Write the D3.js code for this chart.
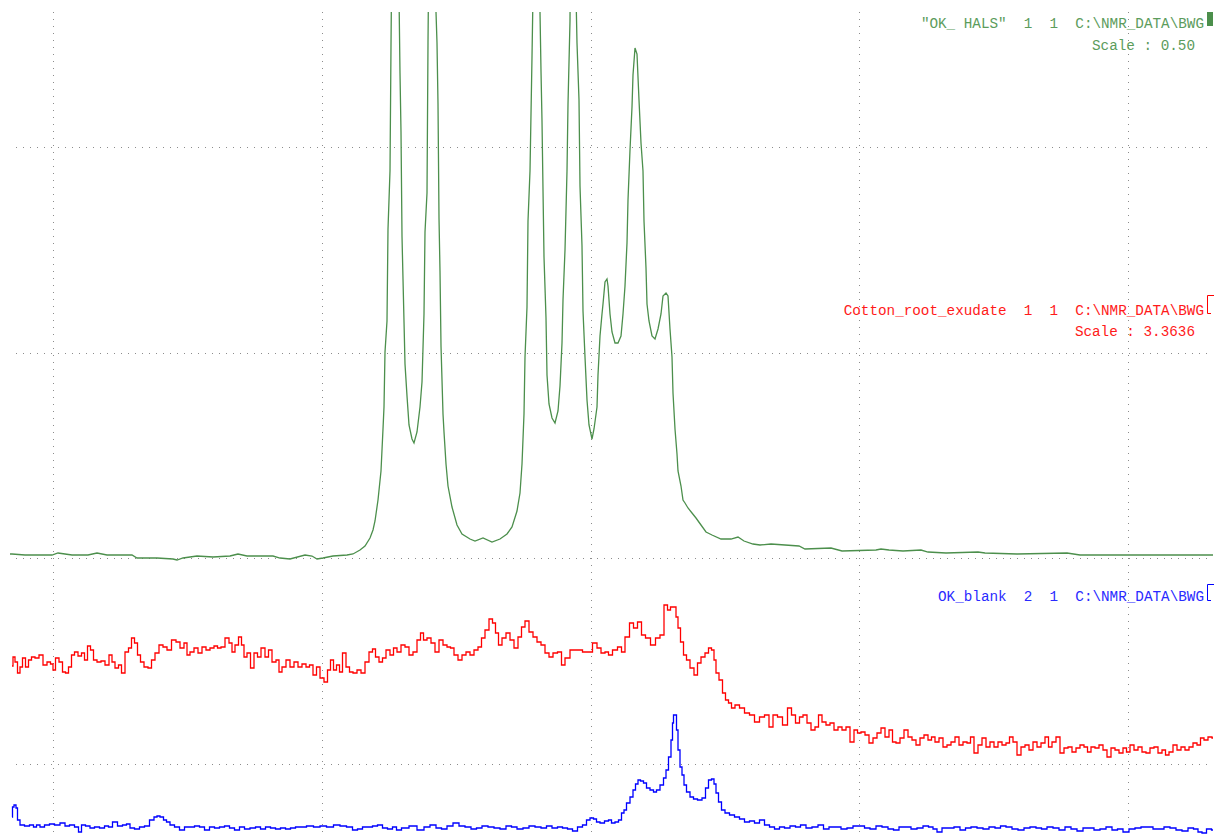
<!DOCTYPE html>
<meta charset="utf-8">
<style>
  body { margin: 0; background: #fff; }
  .grid line { stroke: #8c8c8c; stroke-width: 1; stroke-dasharray: 1 6; }
  .trace { fill: none; stroke-width: 1.3; stroke-linejoin: miter; }
  .label { font-family: "Liberation Mono", "Courier New", monospace; font-size: 14.3px; white-space: pre; }
</style>
<body>
<script src="https://d3js.org/d3.v7.min.js"></script>
<script>
var width = 1216, height = 837;

// grid positions (channel / intensity units)
var gridChannels = [43, 312, 580.5, 849, 1118];
var gridLevels = [0, 206, 411, 617];

// vertical offsets of the three stacked spectra
var greenOffset = 210, redOffset = 64, blueOffset = -62;

// "OK_ HALS" spectrum, [channel, intensity]
var greenPoints = [[0,0],[2,0],[15,-1],[42,-1],[48,1],[55,0],[62,-1],[78,-1],[87,1],[97,-1],[122,-1],[127,-4],[137,-4],[147,-4],
  [163,-5],[167,-6],[173,-4],[187,-2],[203,-3],[220,-2],[228,0],[237,-2],[257,-2],[263,-2],[270,-4],[280,-5],[295,-1],[302,-2],
  [307,-5],[313,-4],[323,-2],[337,-1],[343,0],[350,4],[355,8],[360,16],[363,24],[365,33],[368,54],[371,83],[373,125],[374,147],
  [375,202],[377,233],[378,325],[380,383],[381,508],[382,620],[385,900],[389,560],[390,481],[391,422],[392,318],[393,275],[395,190],
  [397,158],[399,129],[402,115],[404,111],[407,122],[410,147],[412,172],[414,240],[415,322],[417,361],[418,511],[419,620],[421,900],
  [426,542],[427,511],[428,450],[429,336],[430,283],[431,208],[433,140],[434,122],[436,90],[438,68],[442,47],[447,29],[452,20],
  [460,15],[465,13],[473,16],[482,12],[490,15],[497,20],[502,27],[507,43],[510,61],[512,90],[514,140],[515,197],[517,247],[518,333],
  [520,383],[522,497],[523,560],[526,900],[530,542],[531,483],[532,433],[533,364],[534,297],[536,236],[537,179],[539,150],[542,136],
  [545,131],[548,143],[550,168],[552,211],[553,254],[555,304],[557,383],[558,450],[560,533],[562,900],[566,560],[567,511],[569,454],
  [570,368],[572,308],[573,243],[575,197],[577,154],[579,129],[582,115],[584,125],[587,147],[588,179],[590,218],[592,240],[593,250],
  [595,272],[597,275],[598,268],[600,240],[602,222],[605,211],[608,211],[611,218],[613,240],[615,268],[617,311],[618,354],[620,404],
  [622,447],[623,479],[625,506],[627,500],[629,454],[631,411],[633,383],[634,333],[636,286],[637,250],[639,233],[642,218],[645,215],
  [648,225],[651,240],[653,258],[656,261],[658,258],[660,225],[662,197],[663,161],[665,125],[667,100],[668,83],[671,68],[673,54],
  [675,51],[678,46],[682,41],[686,36],[691,29],[696,22],[702,19],[711,15],[721,15],[728,17],[734,13],[743,10],[750,9],[761,10],
  [775,9],[789,8],[795,5],[821,6],[832,3],[866,4],[871,5],[879,4],[893,3],[911,4],[918,2],[936,1],[968,2],[975,1],[1007,0],
  [1057,1],[1070,-1],[1203,-1]];

// Cotton_root_exudate spectrum, [channel, intensity]
var redPoints = [[2,34],[4,43],[6,38],[9,27],[11,33],[14,42],[17,33],[20,40],[23,43],[27,42],[31,45],[35,35],[39,38],[42,36],
  [44,30],[47,42],[51,38],[54,28],[57,27],[60,33],[63,45],[66,48],[70,44],[73,47],[76,40],[79,54],[82,50],[85,40],[89,38],[93,39],
  [97,35],[101,45],[103,38],[107,32],[110,35],[113,27],[117,48],[120,52],[123,62],[126,57],[129,45],[132,38],[136,33],[140,32],
  [143,40],[147,47],[151,55],[155,53],[159,50],[164,60],[168,58],[172,52],[176,57],[178,45],[182,48],[186,52],[190,47],[194,53],
  [198,50],[202,52],[206,54],[209,52],[213,53],[217,62],[221,57],[223,48],[227,55],[230,63],[233,55],[235,43],[239,47],[242,32],
  [246,47],[249,43],[253,52],[257,43],[260,50],[264,38],[268,40],[270,28],[274,33],[278,40],[282,33],[286,38],[290,33],[294,36],
  [298,33],[301,35],[305,25],[308,33],[312,22],[316,18],[319,30],[322,40],[325,30],[328,35],[331,28],[334,47],[338,33],[341,28],
  [345,27],[349,30],[353,27],[357,38],[361,48],[364,51],[367,43],[371,38],[374,42],[378,50],[382,45],[385,52],[389,48],[393,55],
  [397,53],[401,45],[405,48],[409,60],[412,67],[415,60],[419,62],[423,57],[427,48],[431,60],[435,55],[439,53],[442,52],[446,45],
  [450,40],[454,45],[458,48],[462,45],[466,50],[470,53],[473,62],[477,70],[481,81],[484,77],[487,67],[490,55],[494,62],[498,67],
  [502,60],[506,52],[510,63],[513,73],[517,79],[521,68],[525,63],[529,58],[533,55],[537,47],[541,43],[545,47],[550,48],[553,35],
  [557,42],[563,50],[570,50],[575,48],[580,48],[585,57],[589,52],[593,47],[597,48],[600,45],[605,50],[610,53],[613,48],[617,63],
  [622,77],[625,72],[630,78],[633,65],[638,62],[643,55],[648,62],[652,65],[656,95],[659,90],[662,93],[665,93],[667,83],[669,72],
  [672,58],[675,45],[678,40],[682,32],[686,25],[689,37],[693,43],[697,47],[700,52],[703,50],[705,40],[707,27],[711,20],[714,7],
  [717,0],[720,-3],[723,-8],[727,-5],[732,-8],[737,-13],[742,-15],[747,-22],[752,-17],[757,-15],[761,-27],[765,-15],[770,-17],
  [775,-25],[780,-8],[783,-15],[788,-23],[791,-17],[795,-15],[799,-23],[803,-30],[807,-27],[810,-15],[814,-22],[818,-25],[822,-23],
  [826,-30],[830,-27],[834,-30],[838,-27],[842,-42],[846,-30],[849,-33],[853,-32],[857,-35],[861,-43],[865,-38],[869,-33],[873,-28],
  [877,-37],[881,-30],[884,-42],[888,-43],[892,-38],[896,-30],[900,-37],[904,-40],[908,-45],[912,-38],[916,-35],[920,-40],[923,-37],
  [927,-42],[931,-38],[935,-47],[939,-45],[943,-42],[947,-37],[951,-45],[955,-42],[959,-43],[962,-37],[966,-53],[970,-45],[974,-38],
  [978,-47],[982,-42],[986,-47],[990,-42],[994,-45],[998,-43],[1001,-37],[1005,-42],[1009,-55],[1013,-47],[1017,-45],[1021,-50],
  [1025,-42],[1029,-47],[1033,-43],[1037,-37],[1040,-47],[1044,-42],[1048,-37],[1052,-53],[1056,-48],[1060,-47],[1064,-52],[1068,-48],
  [1072,-45],[1076,-47],[1079,-52],[1083,-47],[1087,-48],[1091,-45],[1095,-50],[1099,-57],[1103,-48],[1107,-50],[1111,-53],[1115,-48],
  [1118,-52],[1122,-45],[1126,-50],[1130,-47],[1134,-52],[1138,-53],[1142,-48],[1146,-47],[1150,-53],[1154,-50],[1157,-55],[1161,-52],
  [1165,-45],[1169,-50],[1173,-47],[1177,-50],[1181,-47],[1185,-43],[1189,-45],[1192,-38],[1196,-40],[1200,-37],[1204,-38]];

// OK_blank spectrum, [channel, intensity]
var bluePoints = [[2,9],[3,19],[5,21],[7,18],[8,6],[12,1],[17,0],[22,1],[25,-1],[28,1],[32,-1],[37,1],[42,2],[47,1],[53,3],[57,0],
  [62,1],[67,-1],[70,-6],[73,1],[78,0],[82,-2],[87,-1],[92,-2],[97,0],[100,-1],[105,4],[110,0],[115,1],[118,2],[122,-2],[127,-3],
  [132,-1],[137,0],[142,6],[146,9],[148,10],[152,9],[155,6],[158,4],[162,1],[167,-1],[172,-4],[177,-1],[182,-1],[187,0],[192,-1],
  [197,-4],[202,-1],[207,-2],[212,-1],[217,0],[222,-2],[227,-4],[232,-1],[237,-3],[243,-2],[248,-1],[253,-3],[258,-1],[263,-2],
  [268,-3],[273,-2],[278,-3],[283,-2],[288,-1],[293,-1],[300,0],[307,-1],[313,0],[320,-1],[327,1],[333,0],[340,-1],[345,-4],
  [350,-3],[355,-1],[360,-1],[365,0],[370,1],[375,-2],[380,-3],[385,-1],[388,-4],[395,-2],[403,0],[411,-4],[417,-1],[423,1],
  [429,-2],[434,-3],[440,0],[446,3],[452,0],[458,-1],[464,-3],[469,-2],[475,0],[481,-1],[487,-2],[493,-3],[499,0],[504,-1],
  [510,-3],[516,-2],[522,0],[528,-1],[534,-2],[539,0],[545,-2],[550,-1],[555,-2],[560,-3],[565,-5],[570,-1],[575,1],[578,6],
  [582,8],[585,7],[588,4],[592,3],[597,5],[600,6],[603,3],[607,4],[610,6],[613,13],[615,16],[618,23],[622,29],[624,36],[627,42],
  [629,46],[632,45],[635,43],[638,38],[642,36],[645,34],[648,36],[652,41],[655,48],[657,56],[660,69],[662,86],[663,103],[664,111],
  [666,111],[667,96],[669,76],[671,59],[673,51],[675,41],[678,34],[682,29],[685,27],[690,26],[694,28],[697,38],[700,46],[703,47],
  [705,42],[707,33],[710,24],[713,16],[717,13],[722,11],[727,9],[732,7],[737,4],[742,5],[747,3],[752,6],[757,1],[762,-1],[767,-3],
  [772,-1],[777,-2],[783,0],[788,-1],[793,1],[799,-2],[805,-1],[811,1],[816,-3],[822,-1],[828,-1],[834,-3],[840,-2],[846,0],
  [852,0],[857,-2],[863,-3],[869,0],[875,-1],[881,-3],[886,-4],[892,-1],[898,-1],[904,-3],[910,-2],[916,0],[921,-1],[925,-3],
  [929,-6],[935,-2],[941,-2],[947,-1],[953,-4],[958,-2],[964,-1],[970,-2],[976,-3],[982,-1],[988,-2],[993,0],[999,-1],[1005,-3],
  [1011,-4],[1017,-2],[1023,-1],[1029,-2],[1034,-3],[1040,-1],[1046,-2],[1052,-4],[1058,-1],[1064,-3],[1070,-5],[1076,-2],
  [1081,-2],[1087,-4],[1093,-3],[1099,-1],[1105,-4],[1110,-3],[1116,-6],[1122,-3],[1128,-2],[1134,-1],[1140,-1],[1146,-3],
  [1151,-3],[1157,-1],[1163,-2],[1169,-4],[1175,-5],[1181,-2],[1186,-3],[1190,-6],[1194,-7],[1199,-3],[1204,-4]];

// header texts
var traceNames = ['"OK_ HALS"', "Cotton_root_exudate", "OK_blank"];
var traceNums = ["1  1", "1  1", "2  1"];
var tracePath = "C:\\NMR_DATA\\BWG";
var scaleTexts = ["Scale : 0.50", "Scale : 3.3636", null];

var traces = [
  { points: greenPoints, offset: greenOffset, stroke: "#4c8f4c", text: "#5c9c5c", curve: d3.curveLinear, labelY: 28, scaleY: 50, markTop: 12, markBottom: 26, filled: true },
  { points: redPoints, offset: redOffset, stroke: "#ff0000", text: "#ff1a1a", curve: d3.curveStep, labelY: 315, scaleY: 336, markTop: 295, markBottom: 313, filled: false },
  { points: bluePoints, offset: blueOffset, stroke: "#0000ff", text: "#2a2aff", curve: d3.curveStep, labelY: 601, scaleY: null, markTop: 584, markBottom: 600, filled: false }
];

var x = d3.scaleLinear().domain([0, 1203]).range([10, 1213]);
var y = d3.scaleLinear().domain([-73, 764]).range([837, 0]);

var svg = d3.select("body").append("svg")
    .attr("width", width)
    .attr("height", height);

svg.append("defs").append("clipPath")
    .attr("id", "plot-clip")
  .append("rect")
    .attr("x", 10).attr("y", 12)
    .attr("width", 1203).attr("height", height - 12);

// dotted grid
var grid = svg.append("g").attr("class", "grid");
grid.selectAll(".vgrid")
    .data(gridChannels)
  .enter().append("line")
    .attr("class", "vgrid")
    .attr("x1", function(d) { return Math.round(x(d)) + 0.5; })
    .attr("x2", function(d) { return Math.round(x(d)) + 0.5; })
    .attr("y1", 12)
    .attr("y2", height);
grid.selectAll(".hgrid")
    .data(gridLevels)
  .enter().append("line")
    .attr("class", "hgrid")
    .attr("x1", 16)
    .attr("x2", x(1203))
    .attr("y1", function(d) { return Math.round(y(d)) + 0.5; })
    .attr("y2", function(d) { return Math.round(y(d)) + 0.5; });

// spectra
var plot = svg.append("g").attr("clip-path", "url(#plot-clip)");
traces.forEach(function(t) {
  var line = d3.line()
      .x(function(d) { return x(d[0]); })
      .y(function(d) { return y(t.offset + d[1]); })
      .curve(t.curve);
  plot.append("path")
      .datum(t.points)
      .attr("class", "trace")
      .attr("stroke", t.stroke)
      .attr("d", line);
});

// labels at the top right of each spectrum
traces.forEach(function(t, i) {
  svg.append("text")
      .attr("class", "label")
      .attr("x", 1204)
      .attr("y", t.labelY)
      .attr("text-anchor", "end")
      .attr("fill", t.text)
      .text(traceNames[i] + "  " + traceNums[i] + "  " + tracePath);
  if (scaleTexts[i]) {
    svg.append("text")
        .attr("class", "label")
        .attr("x", 1195)
        .attr("y", t.scaleY)
        .attr("text-anchor", "end")
        .attr("fill", t.text)
        .text(scaleTexts[i]);
  }
  if (t.filled) {
    svg.append("rect")
        .attr("x", 1207).attr("y", t.markTop)
        .attr("width", 6).attr("height", t.markBottom - t.markTop)
        .attr("fill", t.stroke);
  } else {
    svg.append("path")
        .attr("d", "M1214," + (t.markTop + 0.5) + "H1207.5V" + (t.markBottom + 0.5) + "H1211")
        .attr("fill", "none")
        .attr("stroke", t.stroke)
        .attr("stroke-width", 1);
  }
});
</script>
</body>
